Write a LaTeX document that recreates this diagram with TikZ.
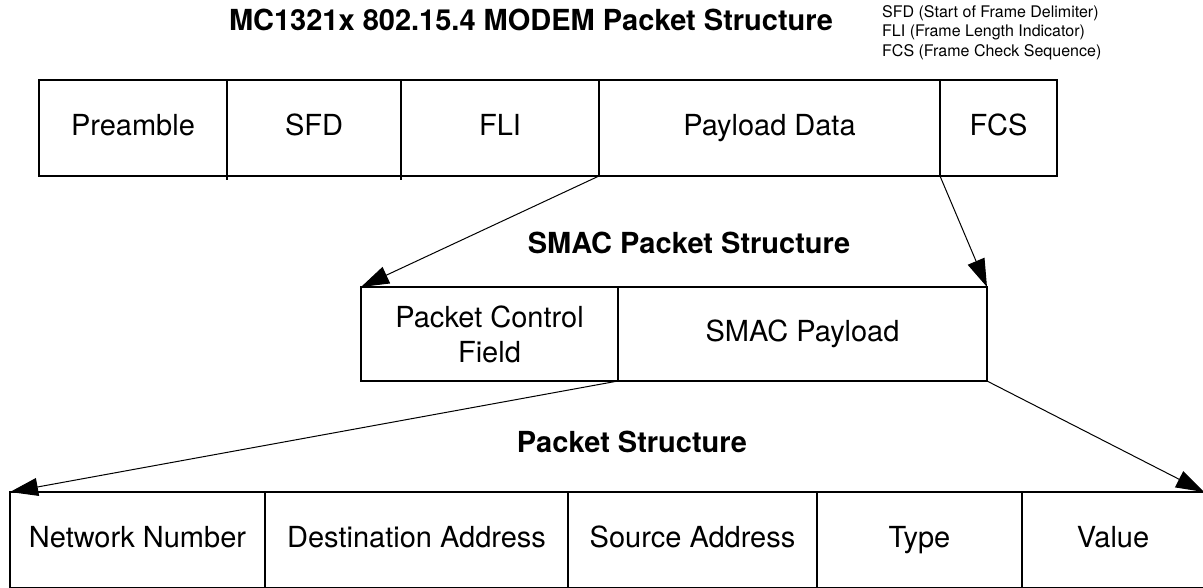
\documentclass[tikz,border=0pt]{standalone}
\usepackage{fontspec}
\setmainfont{TeX Gyre Heros}
\usetikzlibrary{positioning,arrows.meta}

\tikzset{
  fieldbox/.style={draw, line width=2pt, minimum height=96pt, inner sep=0pt,
    outer sep=0pt, anchor=north west, align=center,
    font=\fontsize{29}{35}\selectfont},
  field/.style={fieldbox, text height=21pt, text depth=6pt},
  heading/.style={font=\bfseries\fontsize{29}{33}\selectfont},
  pointer/.style={line width=1pt, -{Triangle[length=28pt,width=18pt]}},
}

\begin{document}
\begin{tikzpicture}[x=1pt,y=-1pt]
  \useasboundingbox (0,0) rectangle (1203,587);

  % Titel und Legende
  \node[heading] (modemtitle) at (531,20) {MC1321x 802.15.4 MODEM Packet Structure};
  \node[anchor=north west, align=left, inner sep=0pt,
    font=\fontsize{16}{19.5}\selectfont] (legend) at (882,5)
    {SFD (Start of Frame Delimiter)\\FLI (Frame Length Indicator)\\FCS (Frame Check Sequence)};

  % MODEM Paket
  \node[field, minimum width=188pt] (pre) at (39,80) {Preamble};
  \node[field, minimum width=174pt, right=0pt of pre] (sfd) {SFD};
  \node[field, minimum width=198pt, right=0pt of sfd] (fli) {FLI};
  \node[field, minimum width=341pt, right=0pt of fli] (payload) {Payload Data};
  \node[field, minimum width=117pt, right=0pt of payload] (fcs) {FCS};
  \draw[line width=2pt] (sfd.south west) -- ++(0,4);
  \draw[line width=2pt] (fli.south west) -- ++(0,4);

  % SMAC Paket
  \node[heading] (smactitle) at (689,243) {SMAC Packet Structure};
  \node[fieldbox, minimum width=257pt, minimum height=94pt] (ctrl) at (361,287) {Packet Control\\Field};
  \node[field, minimum width=369pt, minimum height=94pt, right=0pt of ctrl] (smacpay) {SMAC Payload};

  % Nutzdaten
  \node[heading] (pkttitle) at (632,442) {Packet Structure};
  \node[field, minimum width=255pt] (netnum) at (10,492) {Network Number};
  \node[field, minimum width=303pt, right=0pt of netnum] (dest) {Destination Address};
  \node[field, minimum width=249pt, right=0pt of dest] (src) {Source Address};
  \node[field, minimum width=205pt, right=0pt of src] (type) {Type};
  \node[field, minimum width=182pt, right=0pt of type] (value) {Value};

  \draw[pointer] (payload.south west) -- (ctrl.north west);
  \draw[pointer] (fcs.south west) -- (smacpay.north east);
  \draw[pointer] (ctrl.south east) -- (netnum.north west);
  \draw[pointer] (smacpay.south east) -- (value.north east);
\end{tikzpicture}
\end{document}
